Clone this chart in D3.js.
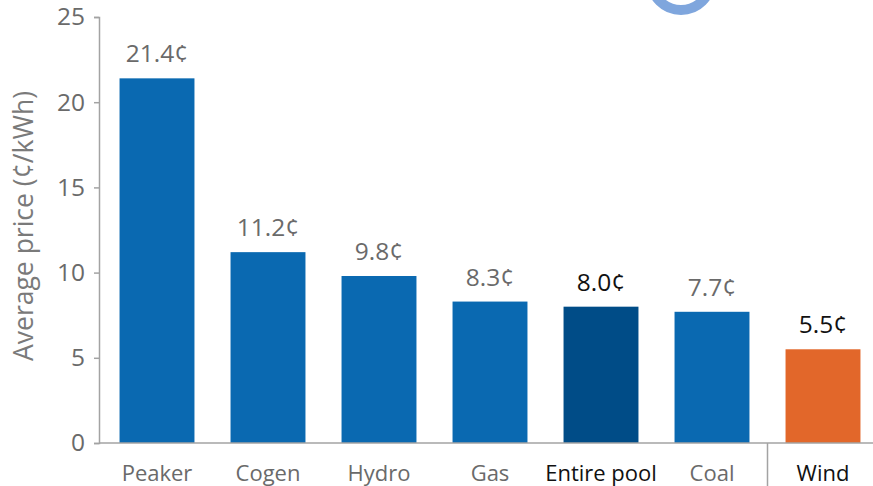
<!DOCTYPE html>
<html><head><meta charset="utf-8">
<script src="https://cdn.jsdelivr.net/npm/d3@7"></script>
<style>body{margin:0;background:#fff}svg{display:block}text{font-family:"Open Sans","Noto Sans",sans-serif}</style>
</head><body><div id="chart"></div>
<script>
const categories = ["Peaker","Cogen","Hydro","Gas","Entire pool","Coal","Wind"];
const values = [21.4, 11.2, 9.8, 8.3, 8.0, 7.7, 5.5];
const valueLabels = ["21.4¢","11.2¢","9.8¢","8.3¢","8.0¢","7.7¢","5.5¢"];
const yTicks = [0,5,10,15,20,25];
const yTitle = "Average price (¢/kWh)";

const W = 873, H = 486;
const svg = d3.select("#chart").append("svg").attr("width", W).attr("height", H);

const x = d3.scaleBand().domain(categories).range([101.5, 878.5]).paddingInner(0.325).paddingOuter(0.1625);
const y = d3.scaleLinear().domain([0, 25]).range([443, 17]);

const barColor = c => c === "Entire pool" ? "#004c87" : c === "Wind" ? "#e2672a" : "#0a69b1";
const strong = c => c === "Entire pool" || c === "Wind";
const FONT = "'Open Sans','Noto Sans',sans-serif";

// decorative ring (cropped title glyph)
svg.append("circle").attr("cx", 681).attr("cy", -20).attr("r", 30)
  .attr("fill", "none").attr("stroke", "#7fa6dd").attr("stroke-width", 10);

// bars
svg.selectAll("rect.bar").data(categories).enter().append("rect")
  .attr("x", c => x(c)).attr("width", x.bandwidth())
  .attr("y", (c,i) => y(values[i])).attr("height", (c,i) => y(0) - y(values[i]))
  .attr("fill", barColor);

// value labels
svg.selectAll("text.val").data(categories).enter().append("text")
  .attr("x", c => x(c) + x.bandwidth()/2).attr("y", (c,i) => y(values[i]) - 16)
  .attr("text-anchor", "middle").attr("font-size", 24.5)
  .attr("fill", c => strong(c) ? "#111" : "#6a6a6a")
  .text((c,i) => valueLabels[i]);

// y axis
const yAxis = svg.append("g").attr("transform", "translate(99,0)")
  .call(d3.axisLeft(y).tickValues(yTicks).tickSize(5).tickPadding(9));
yAxis.select(".domain").attr("stroke", "#a3a3a3").attr("stroke-width", 1.5);
yAxis.selectAll(".tick line").attr("stroke", "#a3a3a3").attr("stroke-width", 1.5);
yAxis.selectAll(".tick text").attr("font-size", 24.5).attr("fill", "#6a6a6a")
  .style("font-family", FONT);

// x baseline & labels
const xAxis = svg.append("g").attr("transform", "translate(0,443)")
  .call(d3.axisBottom(x).tickSize(0));
xAxis.select(".domain").attr("d", "M99,0H873").attr("stroke", "#a3a3a3").attr("stroke-width", 1.5);
xAxis.selectAll(".tick text").attr("font-size", 22).attr("y", 38).attr("dy", null)
  .attr("fill", c => strong(c) ? "#111" : "#6a6a6a")
  .style("font-family", FONT);

// separator before Wind
const sepX = (x("Coal") + x.bandwidth() + x("Wind")) / 2;
svg.append("line").attr("x1", sepX).attr("x2", sepX).attr("y1", 443).attr("y2", H)
  .attr("stroke", "#a3a3a3").attr("stroke-width", 1.5);

// y title
svg.append("text").attr("transform", "translate(33,226) rotate(-90)")
  .attr("text-anchor", "middle").attr("font-size", 26.5).attr("fill", "#7a7a7a").text(yTitle);
</script></body></html>
